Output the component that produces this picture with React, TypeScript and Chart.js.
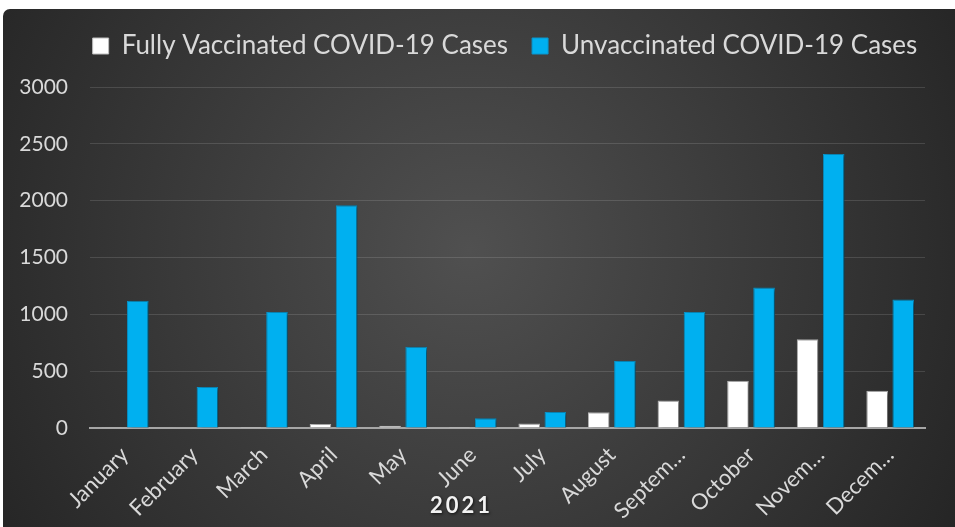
import React, { useEffect, useRef } from "react";
import { Chart, registerables } from "chart.js";

Chart.register(...registerables);

const categories = ["January", "February", "March", "April", "May", "June", "July", "August", "Septem…", "October", "Novem…", "Decem…"];
const fullyVaccinated = [2, 6, 8, 35, 20, 8, 40, 138, 243, 416, 780, 328];
const unvaccinated = [1120, 360, 1020, 1960, 715, 85, 140, 590, 1020, 1235, 2410, 1130];
const seriesNames = ["Fully Vaccinated COVID-19 Cases", "Unvaccinated COVID-19 Cases"];
const yTicks = [0, 500, 1000, 1500, 2000, 2500, 3000];
const axisTitle = "2021";

const FONT = "Lato, 'Open Sans', sans-serif";
const W = 955;
const H = 527;

const backgroundPlugin = {
  id: "cardBackground",
  beforeDraw(chart: any) {
    const ctx = chart.ctx;
    ctx.save();
    const g = ctx.createRadialGradient(470, 250, 0, 470, 250, 560);
    g.addColorStop(0, "#505050");
    g.addColorStop(1, "#252525");
    ctx.fillStyle = g;
    ctx.beginPath();
    if (ctx.roundRect) ctx.roundRect(3, 9, W + 10, H + 10, 7);
    else ctx.rect(3, 9, W + 10, H + 10);
    ctx.fill();
    ctx.restore();
  },
};

const shadowPlugin = {
  id: "barShadow",
  beforeDatasetsDraw(chart: any) {
    const ctx = chart.ctx;
    ctx.save();
    ctx.shadowColor = "rgba(0,0,0,0.55)";
    ctx.shadowBlur = 4;
    ctx.shadowOffsetX = 2;
    ctx.shadowOffsetY = 1;
  },
  afterDatasetsDraw(chart: any) {
    chart.ctx.restore();
  },
};

const titlePlugin = {
  id: "yearTitle",
  afterDraw(chart: any) {
    const ctx = chart.ctx;
    const area = chart.chartArea;
    ctx.save();
    ctx.font = `bold 22px ${FONT}`;
    (ctx as any).letterSpacing = "3px";
    ctx.textAlign = "center";
    ctx.textBaseline = "middle";
    ctx.shadowColor = "rgba(0,0,0,0.7)";
    ctx.shadowBlur = 3;
    ctx.shadowOffsetX = 1;
    ctx.shadowOffsetY = 1;
    ctx.fillStyle = "#f2f2f2";
    ctx.fillText(axisTitle, (area.left + area.right) / 2 - 46, 506);
    ctx.restore();
  },
};

const legendTweakPlugin = {
  id: "legendTweak",
  beforeInit(chart: any) {
    const legend = chart.legend;
    if (!legend) return;
    const fit = legend.fit;
    legend.fit = function () {
      fit.bind(legend)();
      this.height += 18;
    };
  },
  afterLayout(chart: any) {
    const legend = chart.legend;
    if (legend) {
      legend.left += 55;
      legend.right += 30;
    }
  },
};

export default function App() {
  const ref = useRef<HTMLCanvasElement | null>(null);
  useEffect(() => {
    if (!ref.current) return;
    const chart = new Chart(ref.current, {
      type: "bar",
      data: {
        labels: categories,
        datasets: [
          {
            label: seriesNames[0],
            data: fullyVaccinated,
            backgroundColor: "#ffffff",
            borderColor: "#bdbdbd",
            borderWidth: 1,
            categoryPercentage: 0.75,
            barPercentage: 0.83,
          },
          {
            label: seriesNames[1],
            data: unvaccinated,
            backgroundColor: "#00b0f0",
            borderColor: "#0a96cc",
            borderWidth: 1,
            categoryPercentage: 0.75,
            barPercentage: 0.83,
          },
        ],
      },
      options: {
        responsive: false,
        animation: false,
        layout: { padding: { left: 0, top: 9, right: 30, bottom: 0 } },
        plugins: {
          legend: {
            display: true,
            position: "top",
            labels: {
              color: "#d9d9d9",
              font: { family: FONT, size: 26 },
              boxWidth: 16,
              boxHeight: 16,
              padding: 24,
            },
          },
          tooltip: { enabled: false },
          title: { display: false },
        },
        scales: {
          x: {
            grid: { display: false, drawTicks: false },
            border: { display: true, color: "#a6a6a6", width: 2 },
            ticks: {
              color: "#d9d9d9",
              font: { family: FONT, size: 22 },
              minRotation: 45,
              maxRotation: 45,
              autoSkip: false,
              padding: 14,
            },
            afterFit(scale: any) {
              scale.height = 99;
            },
          },
          y: {
            min: 0,
            max: 3000,
            afterBuildTicks(scale: any) {
              scale.ticks = yTicks.map((v) => ({ value: v }));
            },
            grid: { color: "rgba(255,255,255,0.13)", lineWidth: 1, drawTicks: false },
            border: { display: false },
            ticks: {
              color: "#d9d9d9",
              font: { family: FONT, size: 21 },
              padding: 22,
              callback: (v: any) => String(v),
            },
            afterFit(scale: any) {
              scale.width = 90;
            },
          },
        },
      },
      plugins: [backgroundPlugin, shadowPlugin, titlePlugin, legendTweakPlugin],
    } as any);
    return () => chart.destroy();
  }, []);
  return (
    <div style={{ position: "absolute", left: 0, top: 0, width: W, height: H }}>
      <canvas ref={ref} width={W} height={H} style={{ display: "block" }} />
    </div>
  );
}
